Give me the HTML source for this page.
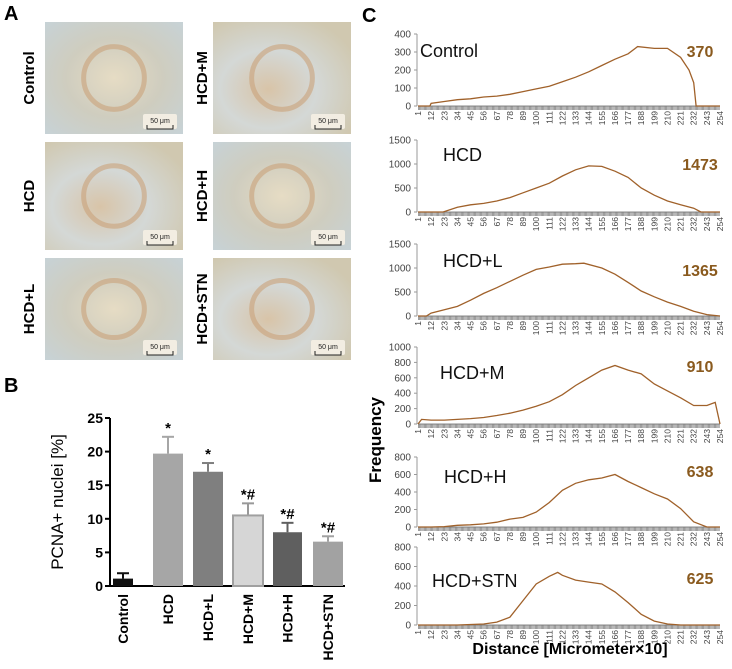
<!DOCTYPE html>
<html><head><meta charset="utf-8"><style>
body{margin:0;background:#fff;}
svg{display:block;font-family:"Liberation Sans",sans-serif;}
</style></head><body>
<svg id="fig" width="732" height="669" viewBox="0 0 732 669">
<defs>
<radialGradient id="tis1" cx="50%" cy="50%" r="70%"><stop offset="0" stop-color="#e6dcc4"/><stop offset="0.5" stop-color="#cfcdbf"/><stop offset="1" stop-color="#c7d2d6"/></radialGradient>
<radialGradient id="tis2" cx="40%" cy="60%" r="70%"><stop offset="0" stop-color="#d8c4a8"/><stop offset="0.5" stop-color="#d4d8d6"/><stop offset="1" stop-color="#d0c8b0"/></radialGradient>
</defs>
<text x="4" y="20" font-size="20" font-weight="bold">A</text>
<text x="4" y="392" font-size="20" font-weight="bold">B</text>
<text x="362" y="22" font-size="20" font-weight="bold">C</text>
<g id="panelA"></g>
<g id="panelB"></g>
<g id="panelC"></g>
<text transform="translate(381,440) rotate(-90)" text-anchor="middle" font-size="17" font-weight="bold">Frequency</text>
<text x="570" y="654" text-anchor="middle" font-size="16" font-weight="bold">Distance [Micrometer×10]</text>
</svg>
<script>
// ---- Panel B data ----
const groups = ["Control","HCD","HCD+L","HCD+M","HCD+H","HCD+STN"];
const means = [1.1, 19.7, 17.0, 10.5, 8.0, 6.6];
const errs = [0.8, 2.5, 1.3, 1.8, 1.4, 0.8];
const sigMarks = ["", "*", "*", "*#", "*#", "*#"];
const barFills = ["#111","#a6a6a6","#7f7f7f","#d6d6d6","#5f5f5f","#a2a2a2"];
const yTicksB = [0,5,10,15,20,25];

// ---- Panel C data (bins and frequencies per histogram) ----
const binTicks = [1,12,23,34,45,56,67,78,89,100,111,122,133,144,155,166,177,188,199,210,221,232,243,254];
const histNames = ["Control","HCD","HCD+L","HCD+M","HCD+H","HCD+STN"];
const histPeaks = ["370","1473","1365","910","638","625"];
const histYTicks = [[0,100,200,300,400],[0,500,1000,1500],[0,500,1000,1500],[0,200,400,600,800,1000],[0,200,400,600,800],[0,200,400,600,800]];
const binsControl = [1,11,12,23,34,45,56,67,78,89,100,111,122,133,144,155,166,177,185,199,210,221,228,232,234,243,254];
const freqControl = [0,0,15,25,35,40,50,55,65,80,95,110,135,160,190,225,260,290,330,320,320,270,200,130,0,0,0];
const binsHCD = [1,12,22,34,45,56,67,78,89,100,111,122,133,144,155,166,177,188,199,210,221,232,238,243,254];
const freqHCD = [0,0,0,100,150,180,230,300,400,500,600,750,880,960,950,850,720,500,350,230,150,80,0,0,0];
const binsL = [1,8,12,23,34,45,56,67,78,89,100,111,122,133,140,155,166,177,188,199,210,221,232,243,254];
const freqL = [0,0,60,130,200,330,470,590,720,850,970,1020,1080,1090,1100,1000,870,700,520,400,290,200,100,30,0];
const binsM = [1,4,12,23,34,45,56,67,78,89,100,111,122,133,144,155,166,177,188,199,210,221,232,243,250,254];
const freqM = [0,60,50,50,60,70,85,110,140,180,230,290,380,500,600,700,760,700,650,520,430,340,240,240,280,0];
const binsH = [1,12,23,34,45,56,67,78,89,100,111,122,133,144,155,166,177,188,199,210,221,232,243,254];
const freqH = [0,0,5,20,25,35,55,90,110,170,280,420,500,540,560,600,520,450,380,320,210,60,0,0];
const binsSTN = [1,12,23,34,45,56,67,78,89,100,111,118,122,133,144,155,166,177,188,199,210,221,232,243,254];
const freqSTN = [0,0,0,0,5,10,30,80,250,420,500,540,510,460,440,420,340,230,110,40,10,0,0,0,0];
const histBins = [binsControl,binsHCD,binsL,binsM,binsH,binsSTN];
const histFreqs = [freqControl,freqHCD,freqL,freqM,freqH,freqSTN];

const NS="http://www.w3.org/2000/svg";
function mk(tag, attrs, parent){const e=document.createElementNS(NS,tag);for(const k in attrs)e.setAttribute(k,attrs[k]);parent.appendChild(e);return e;}

// ---- Panel A ----
const A=document.getElementById('panelA');
const imgCols=[45,213], imgRows=[[22,134],[142,250],[258,360]];
const imgLabels=[["Control","HCD","HCD+L"],["HCD+M","HCD+H","HCD+STN"]];
for(let c=0;c<2;c++)for(let r=0;r<3;r++){
  const x=imgCols[c], y0=imgRows[r][0], h=imgRows[r][1]-y0, w=138;
  const im=mk('rect',{x:x,y:y0,width:w,height:h,fill:(r+c)%2?'url(#tis2)':'url(#tis1)'},A);
  
  
  const v=mk('ellipse',{cx:x+w/2,cy:y0+h/2,rx:w*0.22,ry:h*0.28,fill:'none',stroke:'#c9a27a','stroke-width':5,opacity:0.6},A);
  
  
  const sb=mk('rect',{x:x+w-40,y:y0+h-20,width:34,height:15,fill:'#f2ede2',rx:2},A);
  
  
  mk('path',{d:`M${x+w-36} ${y0+h-9} v4 h26 v-4`,stroke:'#222','stroke-width':1,fill:'none'},A);
  const st=mk('text',{x:x+w-23,y:y0+h-11,'font-size':7,'text-anchor':'middle',fill:'#222'},A);
  st.textContent='50 μm';
  
  
  const lx = c===0?34:207, ly=y0+h/2;
  const lt=mk('text',{transform:`translate(${lx},${ly}) rotate(-90)`,'text-anchor':'middle','font-size':15,'font-weight':'bold'},A);
  lt.textContent=imgLabels[c][r];
  
  
}

// ---- Panel B ----
const B=document.getElementById('panelB');
const bx0=110, bx1=345, by0=586, by1=418, bmax=25;
const ys=v=>by0-(v/bmax)*(by0-by1);
const barX=[113,153,193,233,273,313], barW=[20,30,30,30,29,30];
mk('line',{x1:bx0,y1:by1,x2:bx0,y2:by0,stroke:'#000','stroke-width':2},B);
mk('line',{x1:bx0,y1:by0,x2:bx1,y2:by0,stroke:'#000','stroke-width':2},B);
yTicksB.forEach(t=>{
  mk('line',{x1:bx0-5,y1:ys(t),x2:bx0,y2:ys(t),stroke:'#000','stroke-width':2},B);
  const tx=mk('text',{x:bx0-7,y:ys(t)+5,'text-anchor':'end','font-size':14,'font-weight':'bold'},B);
  tx.textContent=t;
  
  
});
const yt=mk('text',{transform:'translate(63,502) rotate(-90)','text-anchor':'middle','font-size':17},B);
yt.textContent='PCNA+ nuclei [%]';


groups.forEach((g,i)=>{
  const x=barX[i], w=barW[i], cx=x+w/2;
  const ec=barFills[i]==='#d6d6d6'?'#999':barFills[i];
  mk('line',{x1:cx,y1:ys(means[i]+errs[i]),x2:cx,y2:ys(means[i]),stroke:ec,'stroke-width':2},B);
  mk('line',{x1:cx-6,y1:ys(means[i]+errs[i]),x2:cx+6,y2:ys(means[i]+errs[i]),stroke:ec,'stroke-width':2},B);
  const r=mk('rect',{x:x,y:ys(means[i]),width:w,height:by0-ys(means[i]),fill:barFills[i],stroke:barFills[i]==='#d6d6d6'?'#a0a0a0':'none','stroke-width':2},B);
  
  
  if(sigMarks[i]){
    const s=mk('text',{x:cx,y:ys(means[i]+errs[i])-4,'text-anchor':'middle','font-size':15,'font-weight':'bold'},B);
    s.textContent=sigMarks[i];
    
    
  }
  const lb=mk('text',{transform:`translate(${cx+5},${by0+8}) rotate(-90)`,'text-anchor':'end','font-size':14,'font-weight':'bold'},B);
  lb.textContent=g;
  
  
});

// ---- Panel C ----
const C=document.getElementById('panelC');
const cx0=418, cx1=720;
const xs=b=>cx0+(b-1)/253*(cx1-cx0);
const plotTops=[34,140,244,347,457,547], plotBots=[106,212,316,424,527,625];
const titlePos=[[420,57],[443,161],[443,267],[440,379],[444,483],[432,587]];
histNames.forEach((nm,k)=>{
  const top=plotTops[k], bot=plotBots[k], yt=histYTicks[k], ymax=yt[yt.length-1];
  const yc=v=>bot-(v/ymax)*(bot-top);
  mk('line',{x1:cx0-1,y1:top,x2:cx0-1,y2:bot,stroke:'#999','stroke-width':1},C);
  yt.forEach(t=>{
    mk('line',{x1:cx0-4,y1:yc(t),x2:cx0-1,y2:yc(t),stroke:'#999'},C);
    const tx=mk('text',{x:cx0-7,y:yc(t)+3.5,'text-anchor':'end','font-size':10,fill:'#444'},C);
    tx.textContent=t;
    
    
  });
  mk('line',{x1:cx0,y1:bot,x2:cx1,y2:bot,stroke:'#888','stroke-width':1},C);
  const ax=mk('line',{x1:cx0,y1:bot+2,x2:cx1,y2:bot+2,stroke:'#777','stroke-width':4,'stroke-dasharray':`${(cx1-cx0)/253*0.6} ${(cx1-cx0)/253*0.4}`},C);
  
  
  binTicks.forEach(b=>{
    const t=mk('text',{transform:`translate(${xs(b)+3},${bot+5}) rotate(-90)`,'text-anchor':'end','font-size':8.5,fill:'#444'},C);
    t.textContent=b;
    
    
  });
  const bins=histBins[k], fr=histFreqs[k];
  const d=bins.map((b,i)=>(i?'L':'M')+xs(b).toFixed(1)+' '+yc(fr[i]).toFixed(1)).join(' ');
  const p=mk('path',{d:d,fill:'none',stroke:'#a0612a','stroke-width':1.3},C);
  
  
  const ti=mk('text',{x:titlePos[k][0],y:titlePos[k][1],'font-size':18,fill:'#111'},C);
  ti.textContent=nm;
  
  
  const pk=mk('text',{x:700,y:[57,170,276,372,477,584][k],'text-anchor':'middle','font-size':16,'font-weight':'bold',fill:'#8a5a1e'},C);
  pk.textContent=histPeaks[k];
  
  
});
</script>
</body></html>
